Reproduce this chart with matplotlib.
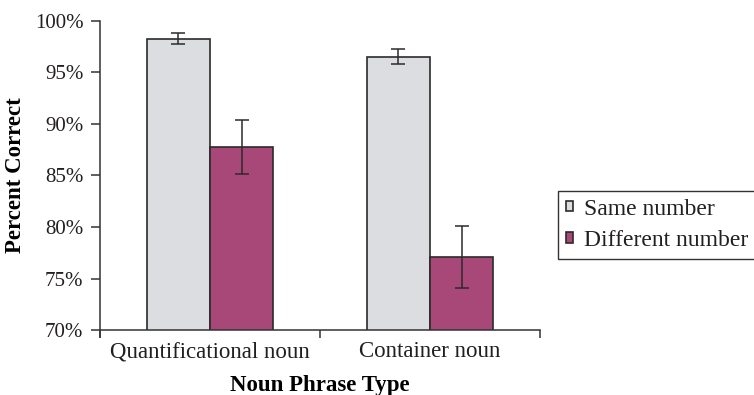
import numpy as np
import matplotlib
matplotlib.use("Agg")
import matplotlib.pyplot as plt
from matplotlib.ticker import FuncFormatter

plt.rcParams['font.family'] = ['Liberation Serif', 'DejaVu Serif']
plt.rcParams['text.color'] = '#231f20'

# porcentaje de respuestas correctas por tipo de frase nominal
categorias = ["Quantificational noun", "Container noun"]
series = ["Same number", "Different number"]
mismo = [98.3, 96.55]
mismo_err = [0.5, 0.75]
distinto = [87.75, 77.05]
distinto_err = [2.6, 3.0]

col_gris = "#dcdde0"
col_violeta = "#a84878"
col_borde = "#2b2b2b"
col_texto = "#231f20"

fig = plt.figure(figsize=(7.54, 3.95), dpi=100)
ax = fig.add_axes([100/754, 65/395, 440/754, 309/395])

x = np.arange(len(categorias))
w = 0.288
b1 = ax.bar(x - w/2, mismo, w, color=col_gris, edgecolor=col_borde, linewidth=1.2,
            label=series[0], zorder=2)
b2 = ax.bar(x + w/2, distinto, w, color=col_violeta, edgecolor=col_borde, linewidth=1.2,
            label=series[1], zorder=2)
ax.errorbar(x - w/2, mismo, yerr=mismo_err, fmt='none', ecolor=col_borde,
            elinewidth=1.1, capsize=5, capthick=1.1, zorder=3)
ax.errorbar(x + w/2, distinto, yerr=distinto_err, fmt='none', ecolor=col_borde,
            elinewidth=1.1, capsize=5, capthick=1.1, zorder=3)

ax.set_ylim(70, 100)
ax.set_xlim(-0.5, len(categorias) - 0.5)
ax.set_yticks(np.arange(70, 101, 5))
ax.yaxis.set_major_formatter(FuncFormatter(lambda v, p: f"{v:.0f}%"))

# ticks del eje x en los limites entre categorias, etiquetas centradas
ax.set_xticks(np.arange(-0.5, len(categorias), 1.0))
ax.set_xticklabels([])
ax.set_xticks(x, minor=True)
ax.set_xticklabels(categorias, minor=True)
ax.tick_params(axis='x', which='minor', length=0, pad=8, labelsize=16.5, colors=col_texto)
ax.tick_params(axis='x', which='major', length=6, width=1.1, color='#333333')
ax.tick_params(axis='y', length=6.5, width=1.1, color='#333333', labelsize=15,
               labelcolor=col_texto, pad=5.5)

for s in ['top', 'right']:
    ax.spines[s].set_visible(False)
for s in ['left', 'bottom']:
    ax.spines[s].set_color('#333333')
    ax.spines[s].set_linewidth(1.1)
ax.spines['left'].set_bounds(69.3, 100)

ax.set_ylabel("Percent Correct", fontsize=16.5, fontweight='bold', labelpad=6)
ax.set_xlabel("Noun Phrase Type", fontsize=16.5, fontweight='bold', labelpad=9)

leg = fig.legend(handles=[b1, b2], labels=series, loc='upper left',
                 bbox_to_anchor=(558/754, 1 - 191/395), fontsize=17,
                 handlelength=0.33, handleheight=0.33, handletextpad=0.45,
                 labelspacing=0.45, borderpad=0.32, borderaxespad=0,
                 fancybox=False, edgecolor='#333333', framealpha=1)
leg.get_frame().set_linewidth(1.0)

plt.savefig("out.png", dpi=100)
